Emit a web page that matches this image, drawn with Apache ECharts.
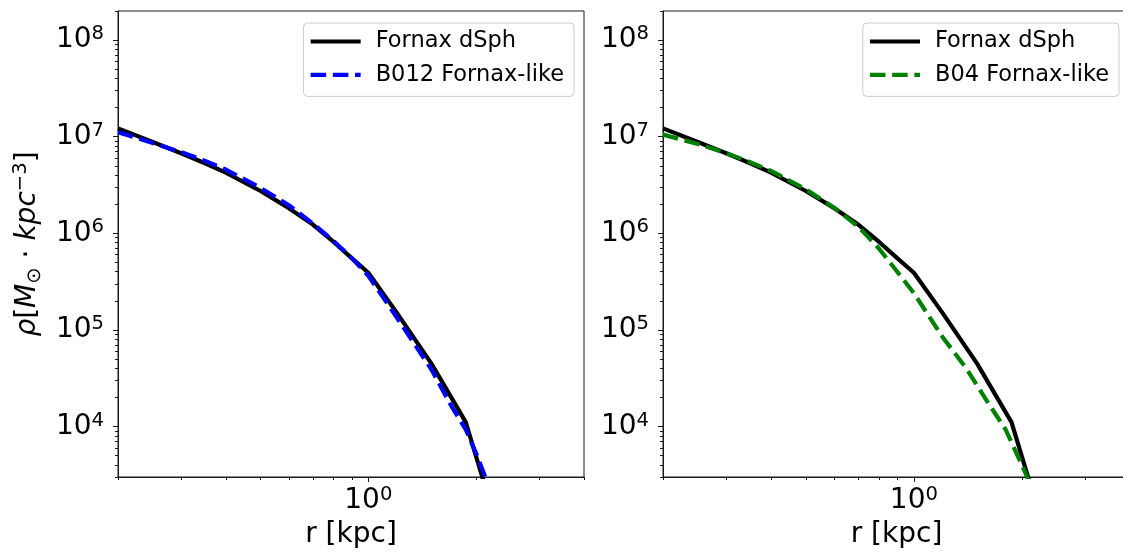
<!DOCTYPE html>
<html><head><meta charset="utf-8">
<script src="https://cdn.jsdelivr.net/npm/echarts@6/dist/echarts.min.js"></script>
<style>html,body{margin:0;padding:0;background:#fff}#c{width:1123px;height:553px}</style>
</head><body><div id="c"></div>
<script>
// ---- data (r in kpc, rho in Msun/kpc^3) ----
const fornaxR   = [0.2, 0.25, 0.3, 0.35, 0.4, 0.5, 0.6, 0.7, 0.8, 0.9, 1.0, 1.2, 1.5, 1.87, 2.1];
const fornaxRho = [1.22e7, 8.81e6, 6.73e6, 5.31e6, 4.25e6, 2.74e6, 1.82e6, 1.23e6, 8.13e5, 5.5e5, 3.9e5, 1.51e5, 4.48e4, 1.11e4, 2.67e3];
const b012R     = [0.2, 0.25, 0.3, 0.35, 0.4, 0.5, 0.6, 0.7, 0.8, 0.9, 1.0, 1.2, 1.5, 1.7, 1.87, 2.0, 2.15];
const b012Rho   = [1.11e7, 8.61e6, 6.92e6, 5.62e6, 4.57e6, 2.95e6, 1.95e6, 1.26e6, 8.32e5, 5.5e5, 3.63e5, 1.35e5, 3.89e4, 1.66e4, 9.33e3, 5.25e3, 2.63e3];
const b04R      = [0.2, 0.25, 0.3, 0.35, 0.4, 0.5, 0.6, 0.7, 0.8, 0.9, 1.0, 1.2, 1.4, 1.6, 1.8, 2.0, 2.1];
const b04Rho    = [1.05e7, 8.41e6, 6.76e6, 5.43e6, 4.42e6, 2.85e6, 1.84e6, 1.17e6, 6.92e5, 3.98e5, 2.4e5, 8.51e4, 3.98e4, 1.82e4, 9.33e3, 3.98e3, 2.63e3];
const seriesNames = ['Fornax dSph', 'B012 Fornax-like', 'B04 Fornax-like'];
const xMajorTicks = [1];
const xMinorTicks = [0.2, 0.3, 0.4, 0.5, 0.6, 0.7, 0.8, 0.9, 2, 3, 4];
const yMajorTicks = [1e4, 1e5, 1e6, 1e7, 1e8];
const yMinorTicks = [3e3, 4e3, 5e3, 6e3, 7e3, 8e3, 9e3,
  2e4, 3e4, 4e4, 5e4, 6e4, 7e4, 8e4, 9e4,
  2e5, 3e5, 4e5, 5e5, 6e5, 7e5, 8e5, 9e5,
  2e6, 3e6, 4e6, 5e6, 6e6, 7e6, 8e6, 9e6,
  2e7, 3e7, 4e7, 5e7, 6e7, 7e7, 8e7, 9e7, 2e8];
const xRange = [0.2, 4];
const yRange = [3e3, 2e8];
const xTitle = 'r [kpc]';

const zip = (a, b) => a.map((v, i) => [v, b[i]]);
const FONT = 'DejaVu Sans';
const AX = '#1a1a1a';
const expFmt = v => '{b|10}{s|' + Math.round(Math.log10(v)) + '}';
const richTick = {
  b: {fontFamily: FONT, fontSize: 28, color: '#000', lineHeight: 32},
  s: {fontFamily: FONT, fontSize: 19.6, color: '#000', lineHeight: 15, verticalAlign: 'top'}
};

function xAxes(g) {
  return [{
    type: 'log', gridIndex: g, min: xRange[0], max: xRange[1], position: 'bottom',
    axisLine: {show: true, lineStyle: {color: AX, width: 1}},
    axisTick: {show: true, customValues: xMajorTicks, length: 5, lineStyle: {color: AX, width: 1}},
    axisLabel: {show: true, customValues: xMajorTicks, formatter: expFmt, rich: richTick, margin: 8},
    splitLine: {show: false}, minorTick: {show: false},
    name: xTitle, nameLocation: 'middle', nameGap: 44,
    nameTextStyle: {fontFamily: FONT, fontSize: 28, color: '#000'}
  }, {
    type: 'log', gridIndex: g, min: xRange[0], max: xRange[1], position: 'bottom',
    axisLine: {show: false},
    axisTick: {show: true, customValues: xMinorTicks, length: 3, lineStyle: {color: AX, width: 1}},
    axisLabel: {show: false}, splitLine: {show: false}
  }];
}
function yAxes(g, withName) {
  const main = {
    type: 'log', gridIndex: g, min: yRange[0], max: yRange[1], position: 'left',
    axisLine: {show: true, lineStyle: {color: AX, width: 1}},
    axisTick: {show: true, customValues: yMajorTicks, length: 5, lineStyle: {color: AX, width: 1}},
    axisLabel: {show: true, customValues: yMajorTicks, formatter: expFmt, rich: richTick, margin: 14},
    splitLine: {show: false}
  };
  if (withName) {
    main.name = '{i|ρ}{n|[}{i|M}{sub|⊙}{n| · }{i|kpc}{sup|−3}{n|]}';
    main.nameLocation = 'middle';
    main.nameRotate = 90;
    main.nameGap = 73;
    main.nameTextStyle = {
      fontFamily: FONT, fontSize: 28, color: '#000',
      rich: {
        i: {fontFamily: FONT, fontStyle: 'italic', fontSize: 28, color: '#000', lineHeight: 34},
        n: {fontFamily: FONT, fontSize: 28, color: '#000', lineHeight: 34},
        sub: {fontFamily: FONT, fontSize: 19.6, color: '#000', lineHeight: 22, verticalAlign: 'bottom'},
        sup: {fontFamily: FONT, fontSize: 19.6, color: '#000', lineHeight: 16, verticalAlign: 'top'}
      }
    };
  }
  return [main, {
    type: 'log', gridIndex: g, min: yRange[0], max: yRange[1], position: 'left',
    axisLine: {show: false},
    axisTick: {show: true, customValues: yMinorTicks, length: 3, lineStyle: {color: AX, width: 1}},
    axisLabel: {show: false}, splitLine: {show: false}
  }];
}

function lineSeries(name, xr, yr, xi, yi, color, dashed, z) {
  return {
    type: 'line', name: name, xAxisIndex: xi, yAxisIndex: yi,
    data: zip(xr, yr), symbol: 'none', showSymbol: false, smooth: false, z: z,
    lineStyle: {color: color, width: 4.2, type: dashed ? [15.5, 6.7] : 'solid', cap: 'butt'},
    itemStyle: {color: color}, silent: true, animation: false, clip: true
  };
}

function legendFor(names, right) {
  return {
    show: true, data: names, orient: 'vertical', right: right, top: 23,
    selectedMode: false, itemWidth: 50, itemHeight: 22, itemGap: 10.4,
    padding: [7, 10, 10, 5],
    backgroundColor: 'rgba(255,255,255,0.8)', borderColor: '#cccccc', borderWidth: 1, borderRadius: 4,
    itemStyle: {opacity: 0},
    lineStyle: {width: 4.2},
    textStyle: {fontFamily: FONT, fontSize: 22.5, color: '#000', lineHeight: 22, padding: [0, 0, 0, 10]}
  };
}

const chart = echarts.init(document.getElementById('c'), null, {renderer: 'canvas'});
chart.setOption({
  backgroundColor: '#fff',
  animation: false,
  grid: [
    {left: 118, top: 11, width: 466, height: 466, show: true, borderColor: AX, borderWidth: 1, backgroundColor: 'transparent', containLabel: false, outerBoundsMode: 'none'},
    {left: 663, top: 11, width: 467, height: 466, show: true, borderColor: AX, borderWidth: 1, backgroundColor: 'transparent', containLabel: false, outerBoundsMode: 'none'}
  ],
  xAxis: [...xAxes(0), ...xAxes(1)],
  yAxis: [...yAxes(0, true), ...yAxes(1, false)],
  legend: [legendFor([seriesNames[0], seriesNames[1]], 549), legendFor([seriesNames[0], seriesNames[2]], 4)],
  series: [
    lineSeries(seriesNames[0], fornaxR, fornaxRho, 0, 0, '#000000', false, 2),
    lineSeries(seriesNames[1], b012R, b012Rho, 0, 0, '#0000ff', true, 3),
    lineSeries(seriesNames[0], fornaxR, fornaxRho, 2, 2, '#000000', false, 2),
    lineSeries(seriesNames[2], b04R, b04Rho, 2, 2, '#008000', true, 3)
  ]
});
</script>
</body></html>
